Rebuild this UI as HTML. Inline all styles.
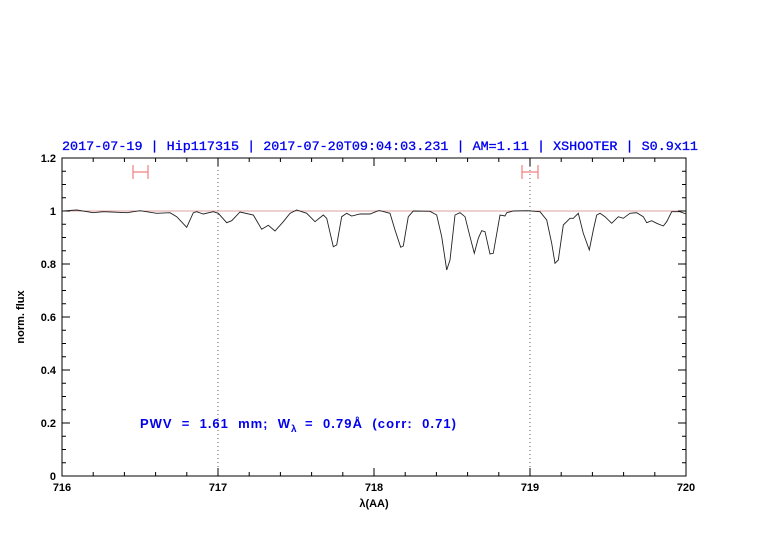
<!DOCTYPE html>
<html><head><meta charset="utf-8"><style>body{margin:0;background:#fff}svg{display:block}</style></head><body>
<svg width="782" height="542" xmlns="http://www.w3.org/2000/svg" font-family="Liberation Sans, sans-serif">
<rect width="782" height="542" fill="#fff"/>
<text x="62" y="150" fill="#0000ee" font-family="Liberation Mono, monospace" font-size="13" textLength="636" lengthAdjust="spacingAndGlyphs" stroke="#0000ee" stroke-width="0.3">2017-07-19 | Hip117315 | 2017-07-20T09:04:03.231 | AM=1.11 | XSHOOTER | S0.9x11</text>
<g stroke="#000" stroke-width="1" fill="none">
<path d="M218 158V476M530 158V476" stroke-dasharray="1,3" stroke="#333" stroke-width="0.8"/>
<line x1="62" y1="211" x2="686" y2="211" stroke="#d08080" stroke-width="0.8"/>
<rect x="62" y="158" width="624" height="318"/>
<path d="M93.2 476v-4M124.4 476v-4M155.6 476v-4M186.8 476v-4M249.2 476v-4M280.4 476v-4M311.6 476v-4M342.8 476v-4M405.2 476v-4M436.4 476v-4M467.6 476v-4M498.8 476v-4M561.2 476v-4M592.4 476v-4M623.6 476v-4M654.8 476v-4M218 476v-8M374 476v-8M530 476v-8
M93.2 158v4M124.4 158v4M155.6 158v4M186.8 158v4M249.2 158v4M280.4 158v4M311.6 158v4M342.8 158v4M405.2 158v4M436.4 158v4M467.6 158v4M498.8 158v4M561.2 158v4M592.4 158v4M623.6 158v4M654.8 158v4M218 158v8M374 158v8M530 158v8"/>
<path d="M62 462.75h4M62 449.5h4M62 436.25h4M62 409.75h4M62 396.5h4M62 383.25h4M62 356.75h4M62 343.5h4M62 330.25h4M62 303.75h4M62 290.5h4M62 277.25h4M62 250.75h4M62 237.5h4M62 224.25h4M62 197.75h4M62 184.5h4M62 171.25h4M62 423h8M62 370h8M62 317h8M62 264h8M62 211h8
M686 462.75h-4M686 449.5h-4M686 436.25h-4M686 409.75h-4M686 396.5h-4M686 383.25h-4M686 356.75h-4M686 343.5h-4M686 330.25h-4M686 303.75h-4M686 290.5h-4M686 277.25h-4M686 250.75h-4M686 237.5h-4M686 224.25h-4M686 197.75h-4M686 184.5h-4M686 171.25h-4M686 423h-8M686 370h-8M686 317h-8M686 264h-8M686 211h-8"/>
</g>
<g stroke="#f08080" stroke-width="1.2" fill="none">
<path d="M133 165V179M133 172H148M148 165V179"/>
<path d="M522 165V179M522 172H538M538 165V179"/>
</g>
<polyline fill="none" stroke="#222" stroke-width="0.9" points="62,211.5 63.3,211 76.7,210 93.3,212.7 103.3,211.7 126.7,212.7 140,210.7 156.7,213.3 170,212.7 176.7,216.7 186.7,227.3 193.3,212.7 196.7,211.7 203.3,214 213.3,211.7 218.3,213.3 226.7,222.7 231.7,220.7 240,212 253.3,215 261.7,229.3 268.3,225.3 275,231 283.3,221.7 290,213.3 296.7,210 306.7,213.3 315,221.7 323.3,215 326.7,218.3 333.3,246.7 336.7,245 341.7,216.7 346.7,213.3 351.7,216 360,214 370,214 378.3,210.7 380,210.7 390,213.3 395,230 400.7,247.3 403.3,246 408.3,216.7 413.3,211 430,211.3 436.7,215 441.7,236.7 446.7,270 450,260 455,215 460,212.7 465,216.7 470,236.7 474.3,253.3 478.3,238.3 481.7,230.7 485,231.7 490,254 493.3,253.3 500,215 505,216 506.7,212.7 513.3,211 526.7,210.7 540,211.7 546.7,220 551.7,243.3 555,263.3 558.3,260 563.3,225 570,218.3 573.3,218.3 578.3,213.3 583.3,233.3 589.3,250 593.3,230 596.7,215 600,213.3 605,216.7 611.7,223.3 618.3,216.7 623.3,218.3 630,213.3 636.7,212.7 643.3,216.7 646.7,222.7 651.7,220.7 656.7,223.3 663.3,226 666.7,221.7 671.7,211.7 680,211.7 686,214"/>
<g font-size="11" font-weight="bold" fill="#000">
<g text-anchor="end">
<text x="56" y="480">0</text><text x="56" y="427">0.2</text><text x="56" y="374">0.4</text><text x="56" y="321">0.6</text><text x="56" y="268">0.8</text><text x="56" y="215">1</text><text x="56" y="162">1.2</text>
</g>
<g text-anchor="middle">
<text x="62" y="491">716</text><text x="218" y="491">717</text><text x="374" y="491">718</text><text x="530" y="491">719</text><text x="686" y="491">720</text>
<text x="374" y="507">λ(AA)</text>
<text transform="translate(24,317) rotate(-90)">norm. flux</text>
</g>
</g>
<g fill="#0000ee" font-size="13" font-weight="bold">
<text x="140" y="428" textLength="150" lengthAdjust="spacing" xml:space="preserve">PWV  =  1.61  mm;  W</text>
<text x="291" y="432" font-size="10">λ</text>
<text x="305" y="428" textLength="151" lengthAdjust="spacing" xml:space="preserve">=  0.79Å  (corr:  0.71)</text>
</g>
</svg>
</body></html>
